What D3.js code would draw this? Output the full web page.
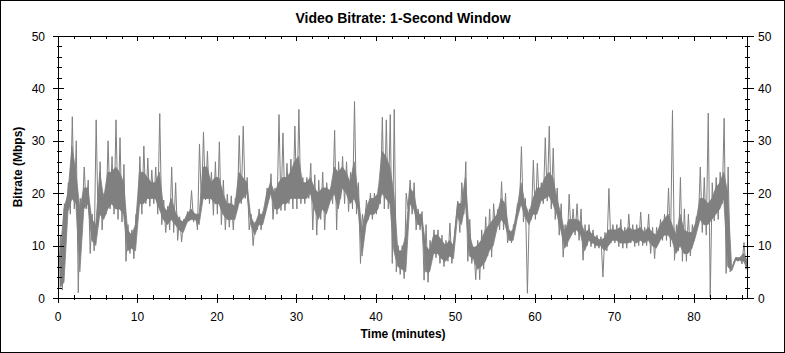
<!DOCTYPE html>
<html><head><meta charset="utf-8">
<script src="https://cdn.jsdelivr.net/npm/d3@7"></script>
<style>
body{margin:0;background:#fff}
svg{display:block}
text{font-family:"Liberation Sans",Arial,sans-serif;fill:#000}
</style>
</head><body><svg id="c" width="785" height="353"></svg>
<script>
const title = "Video Bitrate: 1-Second Window";
const xLabel = "Time (minutes)";
const yLabel = "Bitrate (Mbps)";
const xTicks = [0,10,20,30,40,50,60,70,80];
const yTicks = [0,10,20,30,40,50];
const xMax = 86.8;
const stepMin = 0.5;

// per half-minute window: highest and lowest 1-second bitrate (Mbps)
const highMbps = [
 12,18,22,34.6,30,19,25,22.5,16,34,26,20,30,27,34,30.6,25.5,14,13,16,
 27,29,26.7,24.4,25,35.2,18.7,17.5,25,22,15.5,15,16.5,20.5,16,29.4,31.7,28,24,26,
 29.8,22.5,19.8,19.5,19,31,32.8,23,16,14.5,17,16.5,21,23.7,21,35,31.5,25.7,26.5,32.8,
 36,23,23,25.7,23.5,22.5,24,22,21,32,26,27,26,24,37.5,22,16,18.7,20,20,
 21,34.5,34,35,36,10,10,20,22.5,22,17,16.5,14,11,13,13,12,11,14.3,11,
 18.5,22,26,15,9.8,11,13,15.5,17,18,16.9,22.2,20,13,14,18,28.9,19,17,26.3,
 25.7,22,30.6,32.8,28.6,21,18,14,19.8,17,18,17,14,14,13,12,11.7,12.5,20.9,14,
 14,15,13.5,16,14,14,16.4,13.5,16,13.5,13.5,15,16,21,35.8,14,23,17,16,14,
 15.5,25,23,35.3,22,23,24,34.3,25,5.8,7.8,7.8,10.6,7
];
const lowMbps = [
 2,1.5,16,16,17,1,16,17,8.5,9,14,13,16,17,16,15,14.5,7,8.5,7.5,
 16,16,18,17.5,18,16,14,12.5,13,12.5,11,10.7,14,15,14.5,13,17.5,18.7,18,15.8,
 16,14,13,13.5,13,17,18,19,13,10,13,13,16,19,15,16,16.7,16.7,18,17,
 17,18,18,19,13,12,15,13,18,18,13,19,18,16.5,17,16,6.6,12.9,15,15,
 16,18,17,17,6.6,5,4.5,3.7,17,16,13,13,3.4,3,7.7,7.7,6.6,6,7,6.6,
 14.7,12.5,16,7,6.6,3.5,3.5,5.5,8,7.8,12.5,13,13,10.5,10.5,14.3,17,14.5,0.9,15,
 15,18,18,18.5,17,15,12,7.8,9.8,12,12,11,7.2,10,9.8,9.5,9.5,4,9,10.5,
 10.5,9.8,9.5,9.5,10.5,9.8,10,10,10,8.5,7.5,10.5,11,11,9.8,7.2,9,7,7,8,
 11,14,12.5,12,0.2,14.7,15,18,4.7,5,7,7,6.5,5.5
];
// per half-minute window: dense core of the trace (Mbps)
const coreHighMbps = [
 8,17,20,29,24,17,21,21,15,14,24,19,24,24,25,24,22,13,12,14,
 24,24,23,22,22,24,17.5,16.5,19,16.5,15,14.5,16,17,16,16,25,25,22,23,
 23,20,18,18,17.5,24,23,22,15.5,14,16,16,20,22,20,22,23,23,24,26,
 27,22,22,23,21,20,21,21,20.5,25,24,25,24,22,26,20,13,17,19,19,
 20,28,27,25,20,9,9,12,21,20,16,16,10,9,12,12,11,10,11,10,
 18,18,23,12,9.5,10,11,13,14,15,16,19,18,12.5,13,17,22,18,16,19,
 21,21,23,24,23,19,16,12.5,15,15,15,14.5,12.5,13,12,11.5,11,11.5,13,13,
 13,13.5,12.5,13.5,13,13,13.5,12.5,13.5,12.5,12,14,15,16,14,12,16,13,12.5,12.5,
 14.5,19,19,18,19,21,22,24,20,5.6,7.7,7.7,8.5,7
];
const coreLowMbps = [
 2,3,16.5,19,18,5,17,18,11,10,16,15,17,18,17,17,16,9,9.5,9,
 18,18,19,19,19,17,15,14,15,14,13,12.5,14.5,15,15,14,19,19,19,18,
 18,16,15,15,15,18,19,20,14,12,14,14,17,20,17,17,18,18,19,19,
 19,19,19,20,17,15,17,16,18.5,20,17,21,20,18,19,17,8,14,16,16,
 17,20,19,18,9,6,5.5,5,18,17,14,14,5,5,8.5,8.5,7.5,7,8,7.5,
 15.5,14,18,8,7.5,5.5,6,7,9,10,13.5,15,14,11,11,15,18,15.5,14,16,
 16,18.5,19,19.5,18,16,13,9.5,11,12.5,13,12,9,11,10.5,10,10,9,10,11,
 11,10.5,10.5,10.5,11,10.5,11,10.5,11,10,9.5,11,12,12,11,8.5,10,8.5,8.5,9.5,
 12,15,14,14,15,16,17,19,6,5.2,7.2,7.2,7,5.5
];

const svg = d3.select("#c");
const L = 58, R = 748, T = 36, B = 298;
const x = d3.scaleLinear().domain([0, xMax]).range([L, R]);
const y = d3.scaleLinear().domain([0, 50]).range([B, T]);

svg.append("rect").attr("x",0.5).attr("y",0.5).attr("width",784).attr("height",352)
  .attr("fill","#fff").attr("stroke","#000").attr("stroke-width",1);

svg.append("clipPath").attr("id","clip").append("rect")
  .attr("x",L).attr("y",T).attr("width",R-L).attr("height",B-T);
const plot = svg.append("g").attr("clip-path","url(#clip)");

// dense core band
const win = coreLowMbps.map((lo, i) => ({t: i*stepMin + stepMin/2, lo, hi: coreHighMbps[i]}));
plot.append("path").datum(win)
  .attr("fill","#808080").attr("stroke","#808080").attr("stroke-width",0.8)
  .attr("d", d3.area().x(d=>x(d.t)).y0(d=>y(d.lo)).y1(d=>y(d.hi)));

// zig-zag trace between window minimum and maximum
const pts = [];
lowMbps.forEach((lo, i) => {
  pts.push([i*stepMin + stepMin*0.1, lo]);
  pts.push([i*stepMin + stepMin*0.6, highMbps[i]]);
});
plot.append("path").datum(pts)
  .attr("fill","none").attr("stroke","#808080").attr("stroke-width",1)
  .attr("d", d3.line().x(d=>x(d[0])).y(d=>y(d[1])));

// frame
svg.append("rect").attr("x",L+0.5).attr("y",T+0.5).attr("width",R-L-1).attr("height",B-T)
  .attr("fill","none").attr("stroke","#000").attr("stroke-width",1);

const g = svg.append("g").attr("stroke","#000").attr("stroke-width",1).attr("shape-rendering","crispEdges");
const xMinor = d3.range(0, 87, 2).filter(v => v % 10 !== 0);
const yMinor = d3.range(0, 51, 2).filter(v => v % 10 !== 0);
xTicks.forEach(v => {
  const px = Math.round(x(v)) + 0.5;
  g.append("line").attr("x1",px).attr("x2",px).attr("y1",B-4).attr("y2",B+5);
  g.append("line").attr("x1",px).attr("x2",px).attr("y1",T).attr("y2",T+5);
});
xMinor.forEach(v => {
  const px = Math.round(x(v)) + 0.5;
  g.append("line").attr("x1",px).attr("x2",px).attr("y1",B-3).attr("y2",B+2);
  g.append("line").attr("x1",px).attr("x2",px).attr("y1",T).attr("y2",T+3);
});
yTicks.forEach(v => {
  const py = Math.round(y(v)) + 0.5;
  g.append("line").attr("x1",L-5).attr("x2",L+6).attr("y1",py).attr("y2",py);
  g.append("line").attr("x1",R-5).attr("x2",R+6).attr("y1",py).attr("y2",py);
});
yMinor.forEach(v => {
  const py = Math.round(y(v)) + 0.5;
  g.append("line").attr("x1",L-1).attr("x2",L+4).attr("y1",py).attr("y2",py);
  g.append("line").attr("x1",R-3).attr("x2",R+2).attr("y1",py).attr("y2",py);
});

svg.selectAll(".xl").data(xTicks).enter().append("text")
  .attr("x", d => x(d)).attr("y", 321).attr("text-anchor","middle")
  .attr("font-size", 12).text(d => d);
svg.selectAll(".yl").data(yTicks).enter().append("text")
  .attr("x", L-13).attr("y", d => y(d)+4.5).attr("text-anchor","end")
  .attr("font-size", 12).text(d => d);
svg.selectAll(".yr").data(yTicks).enter().append("text")
  .attr("x", R+10).attr("y", d => y(d)+4.5).attr("text-anchor","start")
  .attr("font-size", 12).text(d => d);

svg.append("text").attr("x",(L+R)/2).attr("y",23).attr("text-anchor","middle")
  .attr("font-size",14).attr("font-weight","bold").text(title);
svg.append("text").attr("x",(L+R)/2).attr("y",338).attr("text-anchor","middle")
  .attr("font-size",12).attr("font-weight","bold").text(xLabel);
svg.append("text").attr("transform",`translate(21.5,${(T+B)/2}) rotate(-90)`)
  .attr("text-anchor","middle").attr("font-size",12).attr("font-weight","bold").text(yLabel);
</script>
</body></html>
